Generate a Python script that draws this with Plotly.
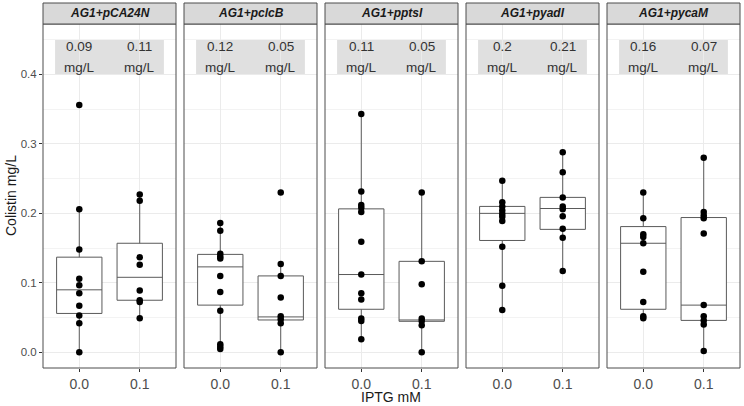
import plotly.graph_objects as go

panels = ["AG1+pCA24N", "AG1+pclcB", "AG1+pptsI", "AG1+pyadI", "AG1+pycaM"]
iptg_labels = ["0.0", "0.1"]
median_labels = [["0.09", "0.11"], ["0.12", "0.05"], ["0.11", "0.05"], ["0.2", "0.21"], ["0.16", "0.07"]]

points_00 = [
    [0.356, 0.206, 0.148, 0.106, 0.0965, 0.085, 0.067, 0.053, 0.042, 0.0],
    [0.186, 0.175, 0.142, 0.138, 0.135, 0.110, 0.087, 0.060, 0.0115, 0.008, 0.005],
    [0.343, 0.2315, 0.212, 0.208, 0.202, 0.159, 0.112, 0.085, 0.076, 0.0486, 0.045, 0.019],
    [0.247, 0.216, 0.210, 0.204, 0.199, 0.195, 0.189, 0.152, 0.096, 0.061],
    [0.230, 0.193, 0.170, 0.166, 0.157, 0.116, 0.0725, 0.052, 0.049],
]
points_01 = [
    [0.227, 0.218, 0.137, 0.126, 0.089, 0.075, 0.0725, 0.049],
    [0.230, 0.127, 0.110, 0.079, 0.052, 0.0475, 0.042, 0.0],
    [0.230, 0.131, 0.098, 0.0486, 0.045, 0.039, 0.0],
    [0.288, 0.259, 0.223, 0.210, 0.206, 0.196, 0.178, 0.165, 0.117],
    [0.280, 0.202, 0.197, 0.193, 0.171, 0.068, 0.052, 0.046, 0.040, 0.002],
]

box_q1 = [[0.056, 0.075], [0.068, 0.0466], [0.062, 0.0447], [0.161, 0.177], [0.062, 0.046]]
box_median = [[0.090, 0.108], [0.123, 0.051], [0.112, 0.0466], [0.200, 0.207], [0.157, 0.068]]
box_q3 = [[0.137, 0.157], [0.141, 0.110], [0.2065, 0.131], [0.210, 0.223], [0.181, 0.194]]
box_low = [[0.0, 0.049], [0.005, 0.0], [0.019, 0.0], [0.061, 0.117], [0.049, 0.002]]
box_high = [[0.206, 0.227], [0.186, 0.127], [0.343, 0.230], [0.247, 0.288], [0.230, 0.280]]

y_ticks = [0.0, 0.1, 0.2, 0.3, 0.4]

W, H = 744, 406
ML, MR, MT, MB = 43, 4, 3, 38
plot_w = W - ML - MR
plot_h = H - MT - MB
panel_w = 133
gap = (plot_w - 5 * panel_w) / 4
strip_h = 21
ytop = (plot_h - strip_h) / plot_h

FONT = "Liberation Sans, Arial, sans-serif"
border = "#4d4d4d"

fig = go.Figure()
layout = dict(
    width=W, height=H,
    margin=dict(l=ML, r=MR, t=MT, b=MB),
    paper_bgcolor="white", plot_bgcolor="white",
    showlegend=False,
    font=dict(family=FONT),
)
shapes = []
annotations = []

for i, name in enumerate(panels):
    k = "" if i == 0 else str(i + 1)
    xa, ya = "x" + k, "y" + k
    x0 = i * (panel_w + gap) / plot_w
    x1 = (i * (panel_w + gap) + panel_w) / plot_w

    fig.add_trace(go.Box(
        x=[1, 2], q1=box_q1[i], median=box_median[i], q3=box_q3[i],
        lowerfence=box_low[i], upperfence=box_high[i],
        width=0.75, whiskerwidth=0, boxpoints=False,
        fillcolor="white", line=dict(color="#5a5a5a", width=1),
        xaxis=xa, yaxis=ya, hoverinfo="skip",
    ))
    xs = [1] * len(points_00[i]) + [2] * len(points_01[i])
    ys = points_00[i] + points_01[i]
    fig.add_trace(go.Scatter(
        x=xs, y=ys, mode="markers",
        marker=dict(color="black", size=6.5),
        xaxis=xa, yaxis=ya, hoverinfo="skip",
    ))

    layout["xaxis" + k] = dict(
        domain=[x0, x1], anchor=ya, range=[0.4, 2.6],
        tickvals=[1, 2], ticktext=iptg_labels,
        ticks="outside", ticklen=3, tickcolor="#333333",
        tickfont=dict(size=14, color="#4d4d4d", family=FONT),
        showgrid=True, gridcolor="#ebebeb", gridwidth=1,
        zeroline=False, showline=False,
    )
    ydict = dict(
        domain=[0, ytop], anchor=xa, range=[-0.0225, 0.4725],
        tickvals=y_ticks, ticktext=["%.1f" % v for v in y_ticks],
        showgrid=True, gridcolor="#ebebeb", gridwidth=1,
        minor=dict(dtick=0.05, tick0=0.05, showgrid=True, gridcolor="#f3f3f3", gridwidth=0.6, ticks=""),
        zeroline=False, showline=False,
    )
    if i == 0:
        ydict.update(ticks="outside", ticklen=3, tickcolor="#333333",
                     tickfont=dict(size=11.5, color="#4d4d4d", family=FONT))
    else:
        ydict.update(matches="y", showticklabels=False, ticks="")
    layout["yaxis" + k] = ydict

    # label background
    shapes.append(dict(type="rect", xref=xa, yref=ya, x0=0.6, x1=2.4, y0=0.4, y1=0.45,
                       fillcolor="#e0e0e0", line=dict(width=0), layer="below"))
    for j in range(2):
        annotations.append(dict(x=j + 1, y=0.4405, xref=xa, yref=ya, text=median_labels[i][j],
                                showarrow=False, font=dict(size=13.5, color="#333333", family=FONT),
                                xanchor="center", yanchor="middle"))
        annotations.append(dict(x=j + 1, y=0.4095, xref=xa, yref=ya, text="mg/L",
                                showarrow=False, font=dict(size=13.5, color="#333333", family=FONT),
                                xanchor="center", yanchor="middle"))

    # panel border
    shapes.append(dict(type="rect", xref="paper", yref="paper", x0=x0, x1=x1, y0=0, y1=ytop,
                       line=dict(color=border, width=1), fillcolor="rgba(0,0,0,0)", layer="above"))
    # strip
    shapes.append(dict(type="rect", xref="paper", yref="paper", x0=x0, x1=x1, y0=ytop, y1=1,
                       line=dict(color=border, width=1), fillcolor="#d9d9d9"))
    annotations.append(dict(x=(x0 + x1) / 2, y=(ytop + 1) / 2, xref="paper", yref="paper",
                            text="<b><i>%s</i></b>" % name, showarrow=False,
                            font=dict(size=12, color="#1a1a1a", family=FONT),
                            xanchor="center", yanchor="middle"))

annotations.append(dict(x=(391 - ML) / plot_w, y=(plot_h + MT - 397) / plot_h, xref="paper", yref="paper",
                        text="IPTG mM", showarrow=False, font=dict(size=14, color="#1a1a1a", family=FONT),
                        xanchor="center", yanchor="middle"))
annotations.append(dict(x=(11 - ML) / plot_w, y=(plot_h + MT - 196) / plot_h, xref="paper", yref="paper",
                        text="Colistin mg/L", textangle=-90, showarrow=False,
                        font=dict(size=14, color="#1a1a1a", family=FONT),
                        xanchor="center", yanchor="middle"))

layout["shapes"] = shapes
layout["annotations"] = annotations
fig.update_layout(**layout)
fig.write_html("out.html")
